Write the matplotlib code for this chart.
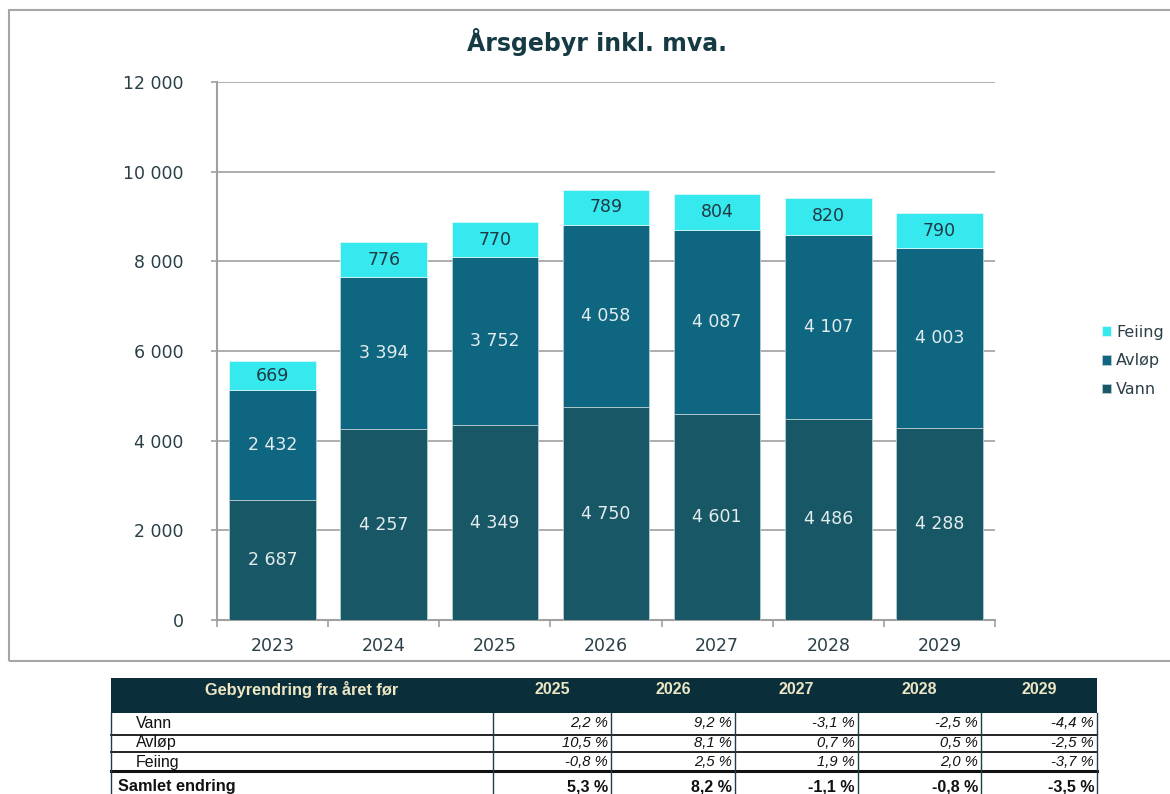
import matplotlib
matplotlib.use("Agg")
import matplotlib.pyplot as plt
from matplotlib.patches import Rectangle
from matplotlib.lines import Line2D
import numpy as np

years = ["2023", "2024", "2025", "2026", "2027", "2028", "2029"]
vann = [2687, 4257, 4349, 4750, 4601, 4486, 4288]
avlop = [2432, 3394, 3752, 4058, 4087, 4107, 4003]
feiing = [669, 776, 770, 789, 804, 820, 790]
series_names = ["Vann", "Avløp", "Feiing"]

yticks = [0, 2000, 4000, 6000, 8000, 10000, 12000]

table_header = "Gebyrendring fra året før"
table_years = ["2025", "2026", "2027", "2028", "2029"]
row_labels = ["Vann", "Avløp", "Feiing", "Samlet endring"]
ch_vann = ["2,2 %", "9,2 %", "-3,1 %", "-2,5 %", "-4,4 %"]
ch_avlop = ["10,5 %", "8,1 %", "0,7 %", "0,5 %", "-2,5 %"]
ch_feiing = ["-0,8 %", "2,5 %", "1,9 %", "2,0 %", "-3,7 %"]
ch_total = ["5,3 %", "8,2 %", "-1,1 %", "-0,8 %", "-3,5 %"]

W, H = 1170, 794
fig = plt.figure(figsize=(W / 100, H / 100), dpi=100)

def fx(px):
    return px / W

def fy(py):
    return 1 - py / H

# chart border
fig.patches.append(Rectangle((fx(9), fy(661)), fx(1200) - fx(9), fy(10) - fy(661),
                             transform=fig.transFigure, fill=False,
                             edgecolor="#a6a6a6", linewidth=1.5))

ax = fig.add_axes([fx(217), fy(620), fx(995) - fx(217), fy(82) - fy(620)])

c_vann = "#175766"
c_avlop = "#0e6680"
c_feiing = "#36e9ef"
grid_c = "#a0a0a0"
text_c = "#1f3a44"

x = np.arange(len(years))
bw = 0.78
v = np.array(vann)
a = np.array(avlop)
f = np.array(feiing)
b1 = ax.bar(x, v, bw, color=c_vann, edgecolor="#b8ccd2", linewidth=0.6, label=series_names[0], zorder=3)
b2 = ax.bar(x, a, bw, bottom=v, color=c_avlop, edgecolor="#b8ccd2", linewidth=0.6, label=series_names[1], zorder=3)
b3 = ax.bar(x, f, bw, bottom=v + a, color=c_feiing, edgecolor="#d8f8fa", linewidth=0.6, label=series_names[2], zorder=3)

def fmt(n):
    return f"{n:,}".replace(",", " ")

for i in range(len(years)):
    ax.text(x[i], v[i] / 2, fmt(v[i]), ha="center", va="center", color="#e4ecee", fontsize=12.5, zorder=4)
    ax.text(x[i], v[i] + a[i] / 2, fmt(a[i]), ha="center", va="center", color="#e4ecee", fontsize=12.5, zorder=4)
    ax.text(x[i], v[i] + a[i] + f[i] / 2, fmt(f[i]), ha="center", va="center", color=text_c, fontsize=12.5, zorder=4)

ax.set_xlim(-0.5, len(years) - 0.5)
ax.set_ylim(0, 12000)
ax.set_yticks(yticks)
ax.set_yticklabels([fmt(t) for t in yticks])
ax.yaxis.grid(True, color=grid_c, linewidth=1.2, zorder=0)
ax.set_axisbelow(True)
ax.set_xticks(x)
ax.set_xticklabels(years)
ax.set_xticks(np.arange(-0.5, len(years)), minor=True)
ax.tick_params(axis="x", which="major", length=0, pad=12, labelsize=12.5, labelcolor="#2b3f47")
ax.tick_params(axis="x", which="minor", length=5, color=grid_c, width=1.2, direction="out")
ax.tick_params(axis="y", length=4, color=grid_c, width=1.2, pad=20, labelsize=12.5, labelcolor="#2b3f47")
for s in ["top", "right"]:
    ax.spines[s].set_visible(False)
for s in ["left", "bottom"]:
    ax.spines[s].set_color(grid_c)
    ax.spines[s].set_linewidth(1.5)

fig.text(fx(597), fy(42), "Årsgebyr inkl. mva.", ha="center", va="center",
         fontsize=17, fontweight="bold", color="#163a44")

leg = ax.legend(handles=[b3, b2, b1], loc="center left", bbox_to_anchor=(fx(1088), fy(361)),
                bbox_transform=fig.transFigure, frameon=False, fontsize=11.5,
                handlelength=0.55, handleheight=0.55, handletextpad=0.3, labelspacing=0.85)
for t in leg.get_texts():
    t.set_color("#2b3f47")

# ---- table ----
tfam = "Liberation Sans"

x0, x1 = 111, 1097
col_edges = [111, 493, 611, 735, 858, 981, 1097]
fig.patches.append(Rectangle((fx(x0), fy(713)), fx(x1) - fx(x0), fy(678) - fy(713),
                             transform=fig.transFigure, facecolor="#0b2f3a", edgecolor="none"))
hdr_c = "#ece6c4"
fig.text(fx((col_edges[0] + col_edges[1]) / 2), fy(690), table_header, ha="center", va="center",
         family=tfam, fontsize=11.8, fontweight="bold", color=hdr_c)
for j, yr in enumerate(table_years):
    cx = (col_edges[j + 1] + col_edges[j + 2]) / 2
    fig.text(fx(cx), fy(690), yr, ha="center", va="center", family=tfam, fontsize=11.5,
             fontweight="bold", color=hdr_c)

row_centers = [723, 743, 762, 787]
row_x = [136, 136, 136, 118]
rows = [ch_vann, ch_avlop, ch_feiing, ch_total]
for r, (lab, vals) in enumerate(zip(row_labels, rows)):
    bold = r == 3
    fig.text(fx(row_x[r]), fy(row_centers[r]), lab, ha="left", va="center", family=tfam,
             fontsize=11.7 if bold else 11.5, fontweight="bold" if bold else "normal", color="#111111")
    for j, val in enumerate(vals):
        fig.text(fx(col_edges[j + 2] - 3), fy(row_centers[r]), val, ha="right", va="center",
                 family=tfam, fontsize=11.5 if bold else 10.6,
                 fontweight="bold" if bold else "normal",
                 style="normal" if bold else "italic", color="#111111")

# horizontal lines
for yy, lw in [(735, 1.3), (752, 1.3), (771, 2.2)]:
    fig.add_artist(Line2D([fx(x0), fx(x1)], [fy(yy), fy(yy)], transform=fig.transFigure,
                          color="#111111", linewidth=lw))
# vertical lines
for xx in col_edges:
    fig.add_artist(Line2D([fx(xx), fx(xx)], [fy(713), fy(794)], transform=fig.transFigure,
                          color="#1e3e48", linewidth=1.0))

fig.savefig("out.png", dpi=100)
